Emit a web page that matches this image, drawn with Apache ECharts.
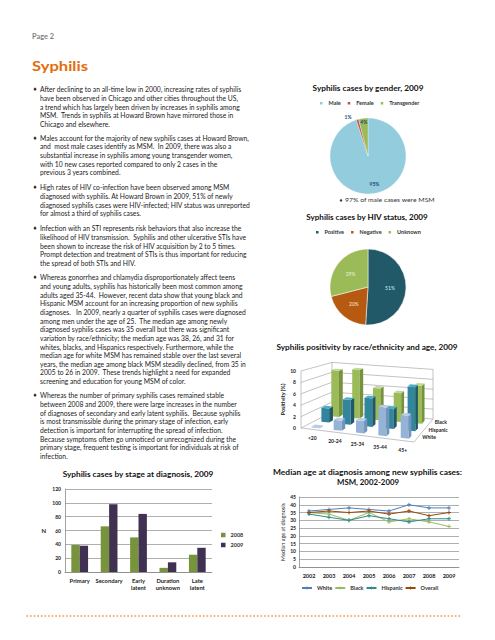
<!DOCTYPE html>
<html><head><meta charset="utf-8">
<script src="https://cdn.jsdelivr.net/npm/echarts@6/dist/echarts.min.js"></script>
<style>html,body{margin:0;padding:0;background:#fff;}#c{width:495px;height:640px;}</style>
</head><body><div id="c"></div>
<script>
// ---------------- data ----------------
const genderNames = ['Male', 'Female', 'Transgender'];
const genderValues = [95, 1, 4];
const hivNames = ['Positive', 'Negative', 'Unknown'];
const hivValues = [51, 20, 29];
const ageGroups = ['<20', '20-24', '25-34', '35-44', '45+'];
const raceRows = ['White', 'Hispanic', 'Black']; // front to back
const positivityWhite = [0.1, 1.8, 2.2, 5.0, 4.0];
const positivityHispanic = [2.6, 4.6, 5.3, 3.7, 8.2];
const positivityBlack = [9.0, 9.5, 6.2, 5.6, 7.4];
const positivityTicks = [0, 2, 4, 6, 8, 10];
const stageCategories = ['Primary', 'Secondary', 'Early latent', 'Duration unknown', 'Late latent'];
const stage2008 = [39, 66, 50, 6, 25];
const stage2009 = [38, 98, 84, 14, 35];
const years = ['2002', '2003', '2004', '2005', '2006', '2007', '2008', '2009'];
const ageWhite = [36, 37, 38, 37, 36, 40, 38, 38];
const ageBlack = [35, 34, 30, 35, 29, 31, 29, 26];
const ageHispanic = [34, 32, 30, 33, 31, 29, 31, 31];
const ageOverall = [35, 36, 35, 36, 34, 36, 33, 35];

// ---------------- page text ----------------
const paragraphs = [
 ["After declining to an all-time low in 2000, increasing rates of syphilis",
  "have been observed in Chicago and other cities throughout the US,",
  "a trend which has largely been driven by increases in syphilis among",
  "MSM.  Trends in syphilis at Howard Brown have mirrored those in",
  "Chicago and elsewhere."],
 ["Males account for the majority of new syphilis cases at Howard Brown,",
  "and  most male cases identify as MSM.  In 2009, there was also a",
  "substantial increase in syphilis among young transgender women,",
  "with 10 new cases reported compared to only 2 cases in the",
  "previous 3 years combined."],
 ["High rates of HIV co-infection have been observed among MSM",
  "diagnosed with syphilis. At Howard Brown in 2009, 51% of newly",
  "diagnosed syphilis cases were HIV-infected; HIV status was unreported",
  "for almost a third of syphilis cases."],
 ["Infection with an STI represents risk behaviors that also increase the",
  "likelihood of HIV transmission.  Syphilis and other ulcerative STIs have",
  "been shown to increase the risk of HIV acquisition by 2 to 5 times.",
  "Prompt detection and treatment of STIs is thus important for reducing",
  "the spread of both STIs and HIV."],
 ["Whereas gonorrhea and chlamydia disproportionately affect teens",
  "and young adults, syphilis has historically been most common among",
  "adults aged 35-44.  However, recent data show that young black and",
  "Hispanic MSM account for an increasing proportion of new syphilis",
  "diagnoses.   In 2009, nearly a quarter of syphilis cases were diagnosed",
  "among men under the age of 25.  The median age among newly",
  "diagnosed syphilis cases was 35 overall but there was significant",
  "variation by race/ethnicity; the median age was 38, 26, and 31 for",
  "whites, blacks, and Hispanics respectively. Furthermore, while the",
  "median age for white MSM has remained stable over the last several",
  "years, the median age among black MSM steadily declined, from 35 in",
  "2005 to 26 in 2009.  These trends highlight a need for expanded",
  "screening and education for young MSM of color."],
 ["Whereas the number of primary syphilis cases remained stable",
  "between 2008 and 2009, there were large increases in the number",
  "of diagnoses of secondary and early latent syphilis.  Because syphilis",
  "is most transmissible during the primary stage of infection, early",
  "detection is important for interrupting the spread of infection.",
  "Because symptoms often go unnoticed or unrecognized during the",
  "primary stage, frequent testing is important for individuals at risk of",
  "infection."]
];
const paraTops = [89.3, 137.7, 187.3, 228.3, 277.3, 395.3];

// ---------------- helpers ----------------
const mctx = document.createElement('canvas').getContext('2d');
function fitScale(text, font, target) { mctx.font = font; const w = mctx.measureText(text).width; return w > 0 ? target / w : 1; }
function txt(x, y, text, font, fill, align, target, va, lh) {
  return { type: 'text', x: x, y: y, scaleX: target ? fitScale(text.split('\n')[0], font, target) : 1, silent: true,
    style: { text: text, x: 0, y: 0, font: font, fill: fill, align: align || 'left', verticalAlign: va || 'middle', lineHeight: lh } };
}
const TITLE_FONT = 'bold 7.6px Lato';
const BODY_FONT = '6.8px Lato';
const LH = 8.65;
const bodyScale = fitScale(paragraphs[0][0], BODY_FONT, 202);

const graphics = [];
graphics.push(txt(32, 36, 'Page 2', 'bold 6.5px Lato', '#7F7F7F', 'left', 22));
graphics.push(txt(32, 66, 'Syphilis', 'bold 13px Lato', '#E46C0A', 'left', 56));
paragraphs.forEach(function (lines, i) {
  graphics.push({ type: 'text', x: 35, y: paraTops[i], silent: true,
    style: { text: '\u2666', x: 0, y: 0, font: '5px "DejaVu Sans"', fill: '#222', align: 'center', verticalAlign: 'middle' } });
  graphics.push({ type: 'text', x: 40, y: paraTops[i] - LH / 2, scaleX: bodyScale, silent: true,
    style: { text: lines.join('\n'), x: 0, y: 0, font: BODY_FONT, fill: '#1a1a1a', align: 'left', verticalAlign: 'top', lineHeight: LH } });
});
graphics.push(txt(368, 88, 'Syphilis cases by gender, 2009', TITLE_FONT, '#111', 'center', 111));
graphics.push({ type: 'text', x: 341, y: 200, silent: true,
  style: { text: '\u2666', x: 0, y: 0, font: '4.5px "DejaVu Sans"', fill: '#333', align: 'center', verticalAlign: 'middle' } });
graphics.push(txt(345, 200, '97% of male cases were MSM', '6.3px Lato', '#333', 'left', 90));
graphics.push(txt(367, 217, 'Syphilis cases by HIV status, 2009', TITLE_FONT, '#111', 'center', 122));
graphics.push(txt(367, 347, 'Syphilis positivity by race/ethnicity and age, 2009', TITLE_FONT, '#111', 'center', 182));
graphics.push(txt(138, 474, 'Syphilis cases by stage at diagnosis, 2009', TITLE_FONT, '#111', 'center', 151));
graphics.push(txt(367.5, 472, 'Median age at diagnosis among new syphilis cases:', TITLE_FONT, '#111', 'center', 189));
graphics.push(txt(368, 482, 'MSM, 2002-2009', TITLE_FONT, '#111', 'center', 62));
graphics.push({ type: 'line', silent: true, shape: { x1: 27, y1: 616, x2: 462, y2: 616 },
  style: { stroke: '#F79646', lineWidth: 1.5, lineDash: [0.6, 3], lineCap: 'round' } });

// ---------------- pseudo-3D projection for the positivity chart ----------------
const FLOOR_FR_DY = 14, FLOOR_BL = [31, -16], FLOOR_BR = [132, -9];
const DEPTH_SHRINK = 0.13;
function proj(cs, u, w) {
  const flx = cs.x, fly = cs.y + cs.height;
  const frx = cs.x + cs.width, fry = fly + FLOOR_FR_DY;
  const blx = flx + FLOOR_BL[0], bly = fly + FLOOR_BL[1];
  const brx = flx + FLOOR_BR[0], bry = fly + FLOOR_BR[1];
  return [
    (1 - u) * (1 - w) * flx + u * (1 - w) * frx + (1 - u) * w * blx + u * w * brx,
    (1 - u) * (1 - w) * fly + u * (1 - w) * fry + (1 - u) * w * bly + u * w * bry
  ];
}
function barRender(row, colors) {
  return function (params, api) {
    const cs = params.coordSys;
    const c = api.value(0), v = api.value(1);
    const u = (api.coord([c, 0])[0] - cs.x) / cs.width;
    const w = (row + 0.5) / raceRows.length;
    const hpx = api.size([0, v])[1];
    const du = 0.036, dw = 0.065;
    const pt = function (uu, ww, top) { const p = proj(cs, uu, ww); return [p[0], p[1] - (top ? hpx * (1 - DEPTH_SHRINK * ww) : 0)]; };
    const fl0 = pt(u - du, w - dw, 0), fr0 = pt(u + du, w - dw, 0), br0 = pt(u + du, w + dw, 0);
    const fl1 = pt(u - du, w - dw, 1), fr1 = pt(u + du, w - dw, 1), br1 = pt(u + du, w + dw, 1), bl1 = pt(u - du, w + dw, 1);
    return { type: 'group', children: [
      { type: 'polygon', shape: { points: [fl0, fr0, fr1, fl1] }, style: { fill: colors[0] } },
      { type: 'polygon', shape: { points: [fr0, br0, br1, fr1] }, style: { fill: colors[1] } },
      { type: 'polygon', shape: { points: [fl1, fr1, br1, bl1] }, style: { fill: colors[2] } }
    ] };
  };
}
const WALL_STYLE = { stroke: '#9a9a9a', lineWidth: 0.6, fill: 'none' };
function wallRender(params, api) {
  const cs = params.coordSys;
  const v = api.value(1);
  const h = api.size([0, v])[1];
  const P = function (u, w, hh) { const p = proj(cs, u, w); return [p[0], p[1] - hh * (1 - DEPTH_SHRINK * w)]; };
  const ch = [{ type: 'polyline', shape: { points: [P(0, 0, h), P(0, 1, h), P(1, 1, h)] }, style: WALL_STYLE }];
  if (v === positivityTicks[0]) {
    ch.push({ type: 'polyline', shape: { points: [P(0, 0, 0), P(1, 0, 0), P(1, 1, 0)] }, style: WALL_STYLE });
  }
  if (v === positivityTicks[positivityTicks.length - 1]) {
    [[0, 0], [0, 1], [1, 1]].forEach(function (q) {
      ch.push({ type: 'polyline', shape: { points: [P(q[0], q[1], 0), P(q[0], q[1], h)] }, style: WALL_STYLE });
    });
  }
  return { type: 'group', children: ch };
}
function catLabelRender(params, api) {
  const cs = params.coordSys;
  const c = api.value(0);
  const u = (api.coord([c, 0])[0] - cs.x) / cs.width;
  const p = proj(cs, u, 0);
  return { type: 'text', x: p[0], y: p[1] + 9, style: { text: ageGroups[c], font: 'bold 5px Lato', fill: '#222', align: 'center', verticalAlign: 'middle' } };
}
function raceLabelRender(params, api) {
  const cs = params.coordSys;
  const r = params.dataIndex;
  const p = proj(cs, 1, (r + 0.5) / raceRows.length);
  return { type: 'text', x: p[0] + 5, y: p[1] - 1, style: { text: raceRows[r], font: 'bold 5px Lato', fill: '#222', align: 'left', verticalAlign: 'middle' } };
}

// ---------------- option ----------------
const genderColors = ['#93CDDD', '#C0504D', '#9BBB59'];
const hivColors = ['#215968', '#B65A12', '#9BBB59'];
const hivLabelColors = ['#DAEEF3', '#FDE9D9', '#EBF1DE'];
const axisGray = '#8c8c8c';
const plus = 'path://M3,0H5V3H8V5H5V8H3V5H0V3H3Z';

const option = {
  animation: false,
  textStyle: { fontFamily: 'Lato' },
  grid: [
    { left: 65, top: 489, width: 147, height: 83 },
    { left: 301, top: 371, width: 113, height: 57 },
    { left: 299, top: 497, width: 160, height: 70 }
  ],
  xAxis: [
    { gridIndex: 0, type: 'category', data: stageCategories,
      axisLine: { lineStyle: { color: axisGray, width: 0.8 } }, axisTick: { show: false },
      axisLabel: { interval: 0, fontSize: 5.8, fontWeight: 'bold', color: '#222', margin: 5, lineHeight: 6.8,
        formatter: function (v) { return v.replace(' ', '\n'); } } },
    { gridIndex: 1, type: 'category', data: ageGroups, show: false },
    { gridIndex: 2, type: 'category', data: years,
      axisLine: { lineStyle: { color: axisGray, width: 0.8 } }, axisTick: { show: false },
      axisLabel: { interval: 0, fontSize: 5.5, fontWeight: 'bold', color: '#222', margin: 6 } }
  ],
  yAxis: [
    { gridIndex: 0, type: 'value', min: 0, max: 120, interval: 20,
      name: 'N', nameLocation: 'middle', nameRotate: 0, nameGap: 19, nameTextStyle: { fontSize: 6, fontWeight: 'bold', color: '#222' },
      axisLine: { show: true, lineStyle: { color: axisGray, width: 0.8 } },
      axisLabel: { fontSize: 5, fontWeight: 'bold', color: '#222', margin: 4 },
      splitLine: { lineStyle: { color: axisGray, width: 0.7 } } },
    { gridIndex: 1, type: 'value', min: 0, max: 10, interval: 2,
      name: 'Positivity (%)', nameLocation: 'middle', nameGap: 13, nameTextStyle: { fontSize: 5.5, fontWeight: 'bold', color: '#222' },
      axisLine: { show: false }, axisTick: { show: false },
      axisLabel: { fontSize: 5, fontWeight: 'bold', color: '#222', margin: 5 },
      splitLine: { show: false } },
    { gridIndex: 2, type: 'value', min: 0, max: 45, interval: 5,
      name: 'Median age at diagnosis', nameLocation: 'middle', nameGap: 12, nameTextStyle: { fontSize: 5.5, color: '#222' },
      axisLine: { show: true, lineStyle: { color: axisGray, width: 0.8 } },
      axisLabel: { fontSize: 5, fontWeight: 'bold', color: '#222', margin: 3 },
      splitLine: { lineStyle: { color: axisGray, width: 0.7 } } }
  ],
  legend: [
    { data: genderNames, left: 318, top: 100, padding: 0, itemWidth: 4.5, itemHeight: 4.5, itemGap: 5, icon: 'rect', selectedMode: false,
      textStyle: { fontSize: 5.5, fontWeight: 'bold', color: '#333' } },
    { data: hivNames, left: 314, top: 229, padding: 0, itemWidth: 4.5, itemHeight: 4.5, itemGap: 5, icon: 'rect', selectedMode: false,
      textStyle: { fontSize: 5.5, fontWeight: 'bold', color: '#333' } },
    { data: ['2008', '2009'], orient: 'vertical', left: 221, top: 532, padding: 0, itemWidth: 4.5, itemHeight: 4.5, itemGap: 4, icon: 'rect', selectedMode: false,
      textStyle: { fontSize: 5.5, fontWeight: 'bold', color: '#333' } },
    { data: ['White', 'Black', 'Hispanic', 'Overall'], left: 301, top: 585, padding: 0, itemWidth: 10, itemHeight: 4, itemGap: 2, selectedMode: false,
      textStyle: { fontSize: 5.5, fontWeight: 'bold', color: '#333' } }
  ],
  series: [
    { type: 'pie', name: 'Gender', center: [368, 156], radius: 38, startAngle: 90, clockwise: true, avoidLabelOverlap: false, silent: true,
      data: genderNames.map(function (n, i) { return { name: n, value: genderValues[i], itemStyle: { color: genderColors[i] }, label: { position: i === 1 ? 'outside' : 'inside' } }; }),
      label: { show: true, formatter: '{c}%', fontSize: 5, fontWeight: 'bold', color: '#1F497D' },
      labelLine: { show: false, length: 3, length2: 0 },
      labelLayout: function (p) { if (p.dataIndex === 0) return { dx: 3, dy: 6 }; if (p.dataIndex === 2) return { dx: -1.5, dy: -12 }; return {}; },
      itemStyle: { borderColor: '#fff', borderWidth: 0.3 } },
    { type: 'pie', name: 'HIV', center: [368, 287], radius: 38, startAngle: 90, clockwise: true, avoidLabelOverlap: false, silent: true,
      data: hivNames.map(function (n, i) { return { name: n, value: hivValues[i], itemStyle: { color: hivColors[i] }, label: { color: hivLabelColors[i] } }; }),
      label: { show: true, position: 'inside', formatter: '{c}%', fontSize: 5 },
      itemStyle: { borderColor: '#fff', borderWidth: 0.5 } },
    { type: 'bar', name: '2008', xAxisIndex: 0, yAxisIndex: 0, data: stage2008, barGap: '0%', barCategoryGap: '43%', itemStyle: { color: '#77933C' }, silent: true },
    { type: 'bar', name: '2009', xAxisIndex: 0, yAxisIndex: 0, data: stage2009, barGap: '0%', barCategoryGap: '43%', itemStyle: { color: '#403152' }, silent: true },
    { type: 'custom', name: 'walls', xAxisIndex: 1, yAxisIndex: 1, silent: true, renderItem: wallRender,
      data: positivityTicks.map(function (t) { return [0, t]; }) },
    { type: 'custom', name: 'Black positivity', xAxisIndex: 1, yAxisIndex: 1, silent: true,
      renderItem: barRender(2, ['#9BBB59', '#76923C', '#C3D69B']), data: positivityBlack.map(function (v, i) { return [i, v]; }) },
    { type: 'custom', name: 'Hispanic positivity', xAxisIndex: 1, yAxisIndex: 1, silent: true,
      renderItem: barRender(1, ['#31859C', '#215968', '#4BACC6']), data: positivityHispanic.map(function (v, i) { return [i, v]; }) },
    { type: 'custom', name: 'White positivity', xAxisIndex: 1, yAxisIndex: 1, silent: true,
      renderItem: barRender(0, ['#95B3D7', '#7393BB', '#B9CDE5']), data: positivityWhite.map(function (v, i) { return [i, v]; }) },
    { type: 'custom', name: 'age labels', xAxisIndex: 1, yAxisIndex: 1, silent: true, renderItem: catLabelRender,
      data: ageGroups.map(function (g, i) { return [i, 0]; }) },
    { type: 'custom', name: 'race labels', xAxisIndex: 1, yAxisIndex: 1, silent: true, renderItem: raceLabelRender,
      data: raceRows.map(function (r, i) { return [0, 0]; }) },
    { type: 'line', name: 'White', xAxisIndex: 2, yAxisIndex: 2, data: ageWhite, symbol: plus, symbolSize: 4, color: '#4F81BD', lineStyle: { width: 1 }, silent: true },
    { type: 'line', name: 'Black', xAxisIndex: 2, yAxisIndex: 2, data: ageBlack, symbol: plus, symbolSize: 4, color: '#9BBB59', lineStyle: { width: 1 }, silent: true },
    { type: 'line', name: 'Hispanic', xAxisIndex: 2, yAxisIndex: 2, data: ageHispanic, symbol: plus, symbolSize: 4, color: '#2E8B8B', lineStyle: { width: 1 }, silent: true },
    { type: 'line', name: 'Overall', xAxisIndex: 2, yAxisIndex: 2, data: ageOverall, symbol: plus, symbolSize: 4, color: '#984807', lineStyle: { width: 1 }, silent: true }
  ],
  graphic: { elements: graphics }
};
const chart = echarts.init(document.getElementById('c'), null, { renderer: 'svg' });
chart.setOption(option);
</script></body></html>
